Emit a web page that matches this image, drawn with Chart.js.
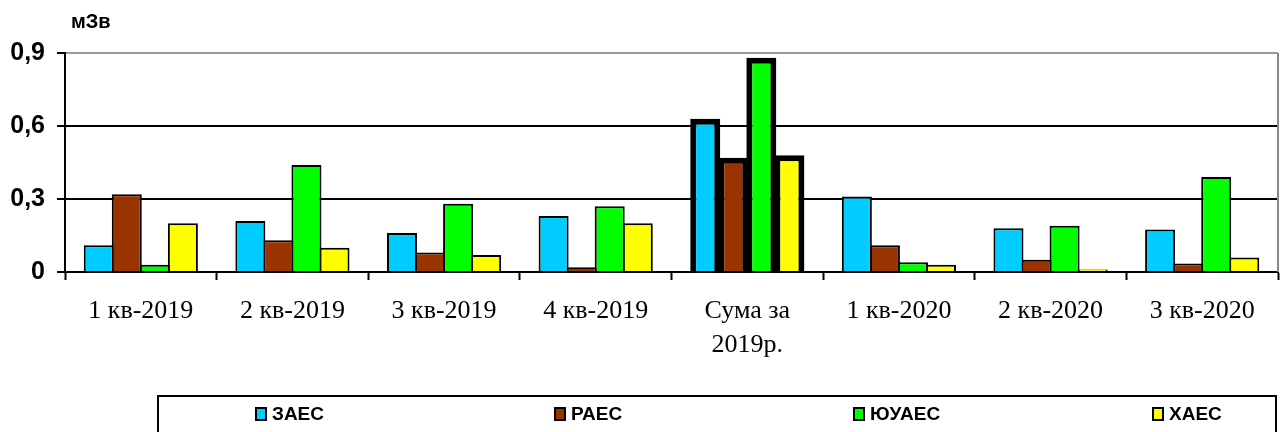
<!DOCTYPE html>
<html>
<head>
<meta charset="utf-8">
<script src="https://cdn.jsdelivr.net/npm/chart.js@4"></script>
<style>
  html, body { margin: 0; padding: 0; background: #fff; }
  #wrap { width: 1280px; height: 432px; position: relative; }
</style>
</head>
<body>
<div id="wrap"><canvas id="doseChart" width="1280" height="432"></canvas></div>
<script>
// Дані з графіка (мЗв)
const categories = ['1 кв-2019', '2 кв-2019', '3 кв-2019', '4 кв-2019', ['Сума за', '2019р.'], '1 кв-2020', '2 кв-2020', '3 кв-2020'];
const seriesNames = ['ЗАЕС', 'РАЕС', 'ЮУАЕС', 'ХАЕС'];
const zaesValues = [0.11, 0.21, 0.16, 0.23, 0.63, 0.31, 0.18, 0.175];
const raesValues = [0.32, 0.13, 0.08, 0.02, 0.47, 0.11, 0.05, 0.035];
const yuaesValues = [0.03, 0.44, 0.28, 0.27, 0.88, 0.04, 0.19, 0.39];
const haesValues = [0.20, 0.10, 0.07, 0.20, 0.48, 0.03, 0.01, 0.06];
const yTicks = [0, 0.3, 0.6, 0.9];
const unitLabel = 'мЗв';

const seriesColors = ['#00CCFF', '#993300', '#00FF00', '#FFFF00'];
const sumIndex = 4;

// Рамка праворуч, підпис одиниць та легенда
const decorPlugin = {
    id: 'decor',
    afterDraw(chart) {
        const ctx = chart.ctx;
        const area = chart.chartArea;
        ctx.save();
        ctx.strokeStyle = '#888';
        ctx.lineWidth = 2;
        ctx.beginPath();
        ctx.moveTo(area.right, area.top);
        ctx.lineTo(area.right, area.bottom);
        ctx.stroke();

        ctx.fillStyle = '#000';
        ctx.font = 'bold 20px "Liberation Sans", Arial, sans-serif';
        ctx.textBaseline = 'alphabetic';
        ctx.textAlign = 'left';
        ctx.fillText(unitLabel, 71, 28);

        // легенда
        ctx.lineWidth = 2;
        ctx.strokeStyle = '#000';
        ctx.strokeRect(158, 396, 1118, 44);
        ctx.font = 'bold 19px "Liberation Sans", Arial, sans-serif';
        ctx.textBaseline = 'middle';
        chart.data.datasets.forEach((ds, i) => {
            const x = 256 + i * 299;
            const y = 414;
            ctx.fillStyle = ds.backgroundColor;
            ctx.fillRect(x, y - 6, 10, 12);
            ctx.lineWidth = 2;
            ctx.strokeRect(x, y - 6, 10, 12);
            ctx.fillStyle = '#000';
            ctx.fillText(ds.label, x + 16, y + 1);
        });
        ctx.restore();
    }
};

function makeDataset(label, values, color) {
    return {
        label: label,
        data: values,
        backgroundColor: color,
        borderColor: '#000',
        borderWidth: (c) => c.dataIndex === sumIndex ? 6 : 2,
        borderSkipped: 'start',
        categoryPercentage: 0.74,
        barPercentage: 1.07
    };
}

new Chart(document.getElementById('doseChart'), {
    type: 'bar',
    data: {
        labels: categories,
        datasets: [
            makeDataset(seriesNames[0], zaesValues, seriesColors[0]),
            makeDataset(seriesNames[1], raesValues, seriesColors[1]),
            makeDataset(seriesNames[2], yuaesValues, seriesColors[2]),
            makeDataset(seriesNames[3], haesValues, seriesColors[3])
        ]
    },
    options: {
        responsive: false,
        animation: false,
        layout: { padding: { top: 53, left: 0, right: 2, bottom: 0 } },
        plugins: {
            legend: { display: false },
            tooltip: { enabled: false }
        },
        scales: {
            x: {
                afterFit: (s) => { s.height = 160; },
                border: { color: '#000', width: 2 },
                grid: {
                    offset: true,
                    drawOnChartArea: false,
                    drawTicks: true,
                    tickLength: 8,
                    tickColor: '#000',
                    tickWidth: 2
                },
                ticks: {
                    color: '#000',
                    autoSkip: false,
                    maxRotation: 0,
                    padding: 14,
                    font: { family: '"Liberation Serif", "Times New Roman", serif', size: 26, lineHeight: 1.3 }
                }
            },
            y: {
                min: 0,
                max: 0.9,
                afterFit: (s) => { s.width = 65; },
                afterBuildTicks: (s) => { s.ticks = yTicks.map(v => ({ value: v })); },
                border: { color: '#000', width: 2 },
                grid: {
                    color: (c) => (c.tick && c.tick.value === 0.9) ? '#999' : '#000',
                    lineWidth: 2,
                    tickLength: 8,
                    tickColor: '#000'
                },
                ticks: {
                    color: '#000',
                    padding: 12,
                    font: { family: '"Liberation Sans", Arial, sans-serif', size: 25, weight: 'bold' },
                    callback: (v) => v === 0 ? '0' : v.toFixed(1).replace('.', ',')
                }
            }
        }
    },
    plugins: [decorPlugin]
});
</script>
</body>
</html>
